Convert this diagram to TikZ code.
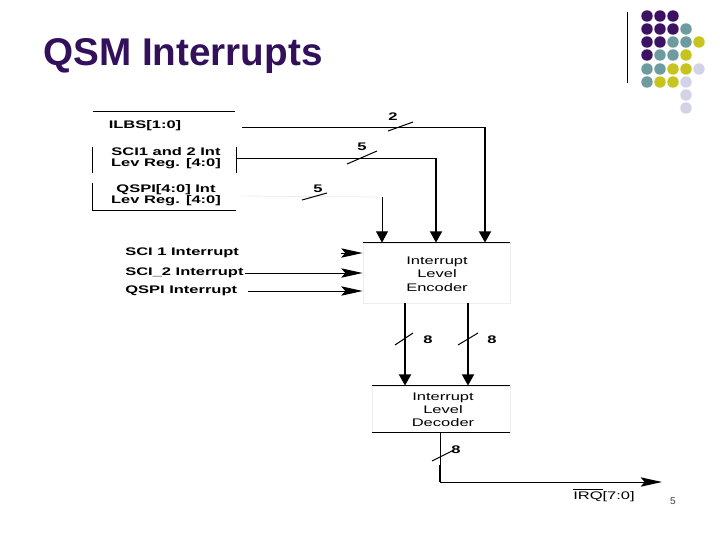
\documentclass[tikz,border=0pt]{standalone}
\usepackage{fontspec}
\setmainfont{Liberation Sans}
\newfontfamily\wide[FakeStretch=1.5]{Liberation Sans}
\usetikzlibrary{arrows.meta,calc}
\definecolor{titlepurple}{HTML}{32105A}
\definecolor{dotP}{HTML}{3B1362}
\definecolor{dotT}{HTML}{6E9C9E}
\definecolor{dotY}{HTML}{C8C41E}
\definecolor{dotL}{HTML}{D3D3E8}
\tikzset{
  lbl/.style={font=\wide\bfseries\fontsize{8.25}{8.3}\selectfont, inner sep=0pt, align=center},
  reg/.style={font=\wide\fontsize{8.25}{10.3}\selectfont, inner sep=0pt, align=center},
  wire/.style={line width=0.75pt},
  fatwire/.style={line width=1.6pt},
  darr/.style={-{Triangle[length=8.5pt,width=9pt]}},
  rarr/.style={-{Stealth[length=16pt,width=7pt,inset=3pt]}},
  faint/.style={draw=black!7, line width=0.6pt},
  blk/.style={draw=none, inner sep=0pt}
}
\begin{document}
\begin{tikzpicture}[x=0.75pt,y=-0.75pt]
\useasboundingbox (0,0) rectangle (720,540);
% title
\node[anchor=base west, inner sep=0pt, text=titlepurple, font=\bfseries\fontsize{29}{30}\selectfont] (title) at (43,65) {QSM Interrupts};
% decoration
\draw[line width=0.75pt] (627,12) -- (627,83);
\foreach \c/\x/\y in {dotP/647/16,dotP/660/16,dotP/673/16,
  dotP/647/29,dotP/660/29,dotP/673/29,dotT/686/29,
  dotP/647/42,dotP/660/42,dotT/673/42,dotT/686/42,dotY/699/42,
  dotP/647/55,dotT/660/55,dotT/673/55,dotY/686/55,
  dotT/647/69,dotT/660/69,dotY/673/69,dotY/686/69,dotL/699/69,
  dotT/647/82,dotY/660/82,dotY/673/82,dotL/686/82,
  dotL/686/95,dotL/686/108}
  \fill[\c] (\x,\y) circle[radius=4.3pt];
% left register boxes
\node[blk, minimum width=106.5pt, minimum height=22.5pt] (b1) at (164,127) {};
\node[blk, minimum width=107.25pt, minimum height=19.5pt] (b2) at (164.5,160) {};
\node[blk, minimum width=107.25pt, minimum height=20.25pt] (b3) at (164.5,196.5) {};
\draw[wire] (b1.north west) -- (b1.north east);
\draw[wire] (b2.north west) -- (b2.south west);
\draw[wire] (b2.north east) -- (b2.south east);
\draw[wire] (b3.north west) -- (b3.south west) -- (b3.south east);
\node[lbl] (t1) at (145,126) {ILBS[1:0]};
\node[lbl] (t2) at (166,158) {SCI1 and 2 Int\\Lev Reg. [4:0]};
\node[lbl] (t3) at (166,195) {QSPI[4:0] Int\\Lev Reg. [4:0]};
% encoder
\node[faint, minimum width=110.25pt, minimum height=45pt] (enc) at (436.5,273) {};
\draw[wire] (enc.north west) -- (enc.north east);
\node[reg] (enct) at (437,274) {Interrupt\\Level\\Encoder};
% decoder
\node[faint, minimum width=103.5pt, minimum height=34.5pt] (dec) at (441,409) {};
\draw[wire] (dec.north west) -- (dec.north east);
\draw[wire] (dec.south west) -- (dec.south east);
\node[reg, font=\wide\fontsize{8.25}{9.8}\selectfont] (dect) at (443,410) {Interrupt\\Level\\Decoder};
% register connections
\coordinate (s1) at (242,127);
\coordinate (c1) at (485,127);
\coordinate (s2) at (236,158);
\coordinate (c2) at (436,158);
\coordinate (s3) at (240,196);
\coordinate (c3) at (382,197);
\draw[wire] (s1) -- (c1);
\draw[fatwire, darr] (c1) -- (c1 |- enc.north);
\draw[wire] (s2) -- (c2);
\draw[fatwire, darr] (c2) -- (c2 |- enc.north);
\draw[black!7, line width=0.6pt] (s3) -- (c3);
\draw[wire, darr] (c3) -- (c3 |- enc.north);
% bus slashes
\draw[wire] (388,131) -- (413,122);
\node[lbl] (n1) at (393,117) {2};
\draw[wire] (347,164) -- (377,151);
\node[lbl] (n2) at (362,147) {5};
\draw[wire] (302,200) -- (327,193);
\node[lbl] (n3) at (318,189) {5};
% interrupt inputs
\node[lbl, anchor=west] (i1) at (125,253) {SCI 1 Interrupt};
\node[lbl, anchor=west] (i2) at (125,273) {SCI\_2 Interrupt};
\node[lbl, anchor=west] (i3) at (125,291) {QSPI Interrupt};
\draw[wire, rarr] ($(i1 -| enc.west)+(-22,0)$) -- (i1 -| enc.west);
\draw[wire, rarr] ([xshift=1pt]i2.east) -- (i2 -| enc.west);
\draw[wire, rarr] ([xshift=8pt]i3.east) -- (i3 -| enc.west);
% encoder to decoder
\coordinate (x1) at (405,340);
\coordinate (x2) at (468,340);
\draw[fatwire, darr] (x1 |- enc.south) -- (x1 |- dec.north);
\draw[fatwire, darr] (x2 |- enc.south) -- (x2 |- dec.north);
\draw[wire] (395,345) -- (413,333);
\node[lbl] (n4) at (428,340) {8};
\draw[wire] (458,345) -- (478,333);
\node[lbl] (n5) at (492,340) {8};
% decoder output
\coordinate (y1) at (440,465);
\coordinate (y2) at (440,482);
\coordinate (y3) at (662,482);
\draw[wire] (y1 |- dec.south) -- (y2);
\draw[fatwire] (y1) -- (y2);
\draw[wire, rarr] (y2) -- (y3);
\draw[wire] (432,461) -- (452,451);
\node[lbl] (n6) at (456,450) {8};
\node[reg] (irq) at (604,495) {$\overline{\mbox{\wide IRQ}}$[7:0]};
\node[inner sep=0pt, text=black!75, font=\fontsize{7.5}{8}\selectfont] (pg) at (673,501) {5};
\end{tikzpicture}
\end{document}
